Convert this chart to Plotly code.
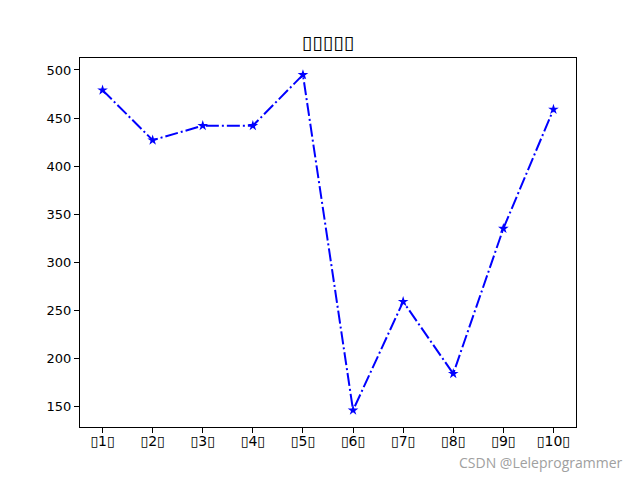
import plotly.graph_objects as go

# Labels as rendered in the reference (the CJK glyphs were missing there, shown as boxes)
title_text = "▯▯▯▯▯"
categories = ["▯1▯", "▯2▯", "▯3▯", "▯4▯", "▯5▯", "▯6▯", "▯7▯", "▯8▯", "▯9▯", "▯10▯"]
values = [479, 427, 442, 442, 495, 146, 259, 184, 335, 459]

x_idx = list(range(len(categories)))
vmin, vmax = min(values), max(values)
pad = (vmax - vmin) * 0.05
n = len(categories)

fig = go.Figure()
fig.add_trace(go.Scatter(
    x=x_idx, y=values, mode="lines+markers",
    line=dict(color="#0000ff", width=2, dash="13px,3px,2px,3px"),
    marker=dict(symbol="star", size=8, color="#0000ff"),
    showlegend=False,
))

font = "DejaVu Sans, Liberation Sans, sans-serif"
fig.update_layout(
    width=640, height=480,
    margin=dict(l=80, r=64, t=58, b=53, autoexpand=False),
    paper_bgcolor="white", plot_bgcolor="white",
    font=dict(family=font, size=13, color="black"),
    title=dict(text=title_text, x=0.5, xanchor="center", xref="paper",
               y=1, yref="paper", yanchor="bottom", pad=dict(b=9),
               font=dict(size=19, color="black", family=font)),
    xaxis=dict(range=[-0.45, n - 1 + 0.45], tickvals=x_idx, ticktext=categories,
               showgrid=False, zeroline=False, showline=True, mirror=True, automargin=False,
               linecolor="black", linewidth=1, ticks="outside", ticklen=5,
               tickcolor="black", tickfont=dict(size=14), ticklabelstandoff=-4),
    yaxis=dict(range=[vmin - pad, vmax + pad], tickvals=[150, 200, 250, 300, 350, 400, 450, 500],
               showgrid=False, zeroline=False, showline=True, mirror=True, automargin=False,
               linecolor="black", linewidth=1, ticks="outside", ticklen=5,
               tickcolor="black", tickfont=dict(size=13)),
)

fig.add_annotation(text="CSDN @Leleprogrammer", xref="paper", yref="paper",
                   x=1.099, y=-0.095, xanchor="right", yanchor="middle",
                   showarrow=False, font=dict(size=14, color="#a0a0a0", family="Open Sans, sans-serif"))

fig.write_html("out.html", config={"displayModeBar": False},
               post_script="document.body.style.margin='0';")
